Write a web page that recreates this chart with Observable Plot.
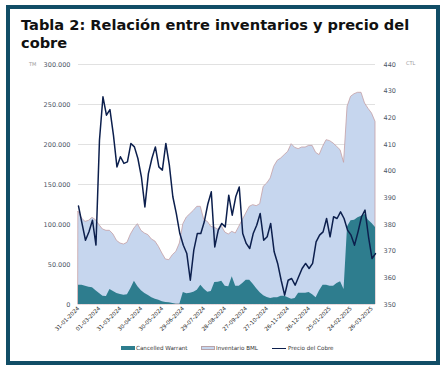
<!DOCTYPE html>
<html>
<head>
<meta charset="utf-8">
<script src="https://cdn.jsdelivr.net/npm/d3@7"></script>
<script src="https://cdn.jsdelivr.net/npm/@observablehq/plot@0.6"></script>
<style>
  html, body { margin: 0; padding: 0; background: #fff; }
  body { width: 446px; height: 373px; position: relative; overflow: hidden; font-family: "DejaVu Sans", sans-serif; }
  #frame { position: absolute; left: 6px; top: 5px; width: 426px; height: 352px; border: 4px solid #114d66; box-sizing: content-box; }
  #title { position: absolute; left: 21px; top: 16px; font: bold 14.6px/17.5px "DejaVu Sans", sans-serif; color: #111; white-space: nowrap; }
  #chart { position: absolute; left: 10px; top: 55px; }
  .unit { position: absolute; font-size: 5px; color: #9a9a9a; }
  .leg { position: absolute; top: 344px; font-size: 5.6px; color: #333; white-space: nowrap; line-height: 8px; }
  .sw { position: absolute; top: 346px; height: 4px; width: 14px; }
</style>
</head>
<body>
<div id="frame"></div>
<div id="title">Tabla 2: Relación entre inventarios y precio del<br>cobre</div>
<div id="chart"></div>
<div class="unit" style="left:29px;top:61px;">TM</div>
<div class="unit" style="left:406px;top:60px;">CTL</div>
<div class="sw" style="left:121px;background:#2e7d8e;"></div>
<div class="leg" style="left:136px;">Cancelled Warrant</div>
<div class="sw" style="left:201px;background:#c6d6ee;border:0.8px solid #b8a3a8;box-sizing:border-box;"></div>
<div class="leg" style="left:216px;">Inventario BML</div>
<div class="sw" style="left:272px;top:347.5px;height:1.5px;background:#0c1f4d;"></div>
<div class="leg" style="left:288px;">Precio del Cobre</div>
<script>
const dates = ["2024-01-31","2024-02-05","2024-02-10","2024-02-15","2024-02-20","2024-02-25","2024-03-01","2024-03-06","2024-03-11","2024-03-16","2024-03-21","2024-03-26","2024-03-31","2024-04-05","2024-04-10","2024-04-15","2024-04-20","2024-04-25","2024-04-30","2024-05-05","2024-05-10","2024-05-15","2024-05-20","2024-05-25","2024-05-30","2024-06-04","2024-06-09","2024-06-14","2024-06-19","2024-06-24","2024-06-29","2024-07-04","2024-07-09","2024-07-14","2024-07-19","2024-07-24","2024-07-29","2024-08-03","2024-08-08","2024-08-13","2024-08-18","2024-08-23","2024-08-28","2024-09-02","2024-09-07","2024-09-12","2024-09-17","2024-09-22","2024-09-27","2024-10-02","2024-10-07","2024-10-12","2024-10-17","2024-10-22","2024-10-27","2024-11-01","2024-11-06","2024-11-11","2024-11-16","2024-11-21","2024-11-26","2024-12-01","2024-12-06","2024-12-11","2024-12-16","2024-12-21","2024-12-26","2024-12-31","2025-01-05","2025-01-10","2025-01-15","2025-01-20","2025-01-25","2025-01-30","2025-02-04","2025-02-09","2025-02-14","2025-02-19","2025-02-24","2025-03-01","2025-03-06","2025-03-11","2025-03-16","2025-03-21","2025-03-26","2025-03-31"];

const inventarioBML = [115800,107500,103300,104600,108300,105400,99200,93750,92100,92100,
87500,79600,76250,75000,77100,87500,95000,100400,92100,88750,
86700,81250,78750,72100,63750,56250,55400,61700,65800,76250,
100400,108750,112900,117100,122100,122100,105400,103300,97100,95800,
93750,97900,90000,87500,90800,88750,97100,105400,113750,122100,
124200,122900,125400,147100,151250,157500,172100,179600,182500,186700,
190800,200400,195800,194200,196250,196250,198300,198300,189600,186700,
197100,205400,204200,201250,197100,192900,177100,247100,259600,262900,
264600,264600,251250,244600,238750,228300];

const cancelledWarrant = [24200,24200,22900,21700,20800,17100,13750,10400,10000,18750,
16250,13750,12500,11700,12100,20000,29200,22100,17100,13750,
11250,8300,6700,5400,3300,2500,2100,1250,400,400,
15000,13300,14200,15400,17900,24200,19200,15400,16250,27500,
27900,29200,22900,22100,34600,22900,22900,26250,30400,30400,
25400,19600,14600,10800,8750,7500,8300,8300,10400,10400,
8300,6700,7500,14200,14200,14200,15000,12100,8300,17100,
24200,24200,22900,22900,26250,28300,18750,97100,104600,105400,
108300,110400,112500,105400,101250,96250];

const precioCobre = [386.9,380.4,374.1,377.3,381.6,372.3,411.6,427.9,421,423.1,
413.5,401.6,405.4,402.9,403.5,410.4,409.1,404.75,397.9,386.6,
399.1,404.75,409.1,401.6,400.4,410.4,402.25,390.4,384.1,376.6,
372.25,369.1,359.1,370.4,376.6,376.6,381,387.6,392.25,371.6,
377.9,380.4,379.1,391,383.5,390.4,394.1,376.6,372.9,371,
376.6,379.75,384.1,374.1,375.4,380.4,369.75,365.4,359.1,353.5,
359.1,359.75,357.25,360.4,363.5,365.4,363.5,365.4,373.5,376,
377.25,382.25,375.4,382.9,382.25,384.75,382.25,377.9,376,372.25,
377.25,382.9,385.4,375.4,367.25,369.1];

const xTickLabels = ["2024-01-31","2024-03-01","2024-03-31","2024-04-30","2024-05-30","2024-06-29","2024-07-29","2024-08-28","2024-09-27","2024-10-27","2024-11-26","2024-12-26","2025-01-25","2025-02-24","2025-03-26"];
const leftTicks = [0,50000,100000,150000,200000,250000,300000];
const rightTicks = [350,360,370,380,390,400,410,420,430,440];

const P0 = 350, P1 = 440, L1 = 300000;
const toLeft = p => (p - P0) / (P1 - P0) * L1;
const fromLeft = v => Math.round(P0 + v / L1 * (P1 - P0));

const rows = dates.map((d, i) => ({
  date: new Date(d),
  inv: inventarioBML[i],
  cw: cancelledWarrant[i],
  price: toLeft(precioCobre[i])
}));

const loc = d3.formatLocale({decimal: ",", thousands: ".", grouping: [3], currency: ["", ""]});
const fmtLeft = loc.format(",");

const chart = Plot.plot({
  width: 425,
  height: 285,
  marginLeft: 68,
  marginRight: 60,
  marginTop: 9,
  marginBottom: 36,
  style: {fontFamily: "DejaVu Sans, sans-serif", fontSize: "6.5px", background: "transparent", overflow: "visible"},
  x: {type: "utc", domain: [new Date(dates[0]), new Date(dates[dates.length - 1])]},
  y: {domain: [0, L1]},
  marks: [
    Plot.gridY(leftTicks.filter(d => d > 0), {stroke: "#d9d9d9", strokeOpacity: 1, strokeWidth: 0.8}),
    Plot.areaY(rows, {x: "date", y: "inv", fill: "#c6d6ee", stroke: "#c4a0a4", strokeWidth: 0.8}),
    Plot.areaY(rows, {x: "date", y: "cw", fill: "#2e7d8e"}),
    Plot.lineY(rows, {x: "date", y: "price", stroke: "#0c1f4d", strokeWidth: 1.5}),
    Plot.axisY(leftTicks, {anchor: "left", tickSize: 0, tickPadding: 8, tickFormat: fmtLeft, label: null, fill: "#4d5566", fontSize: 6.5}),
    Plot.axisY(rightTicks.map(toLeft), {anchor: "right", tickSize: 0, tickPadding: 8, tickFormat: fromLeft, label: null, fill: "#4d5566", fontSize: 6.5}),
    Plot.axisX(xTickLabels.map(d => new Date(d)), {tickRotate: -45, tickSize: 0, tickPadding: 3, tickFormat: d3.utcFormat("%d-%m-%Y"), label: null, fill: "#1a1a1a", fontSize: 5.5})
  ]
});
document.getElementById("chart").appendChild(chart);
</script>
</body>
</html>
